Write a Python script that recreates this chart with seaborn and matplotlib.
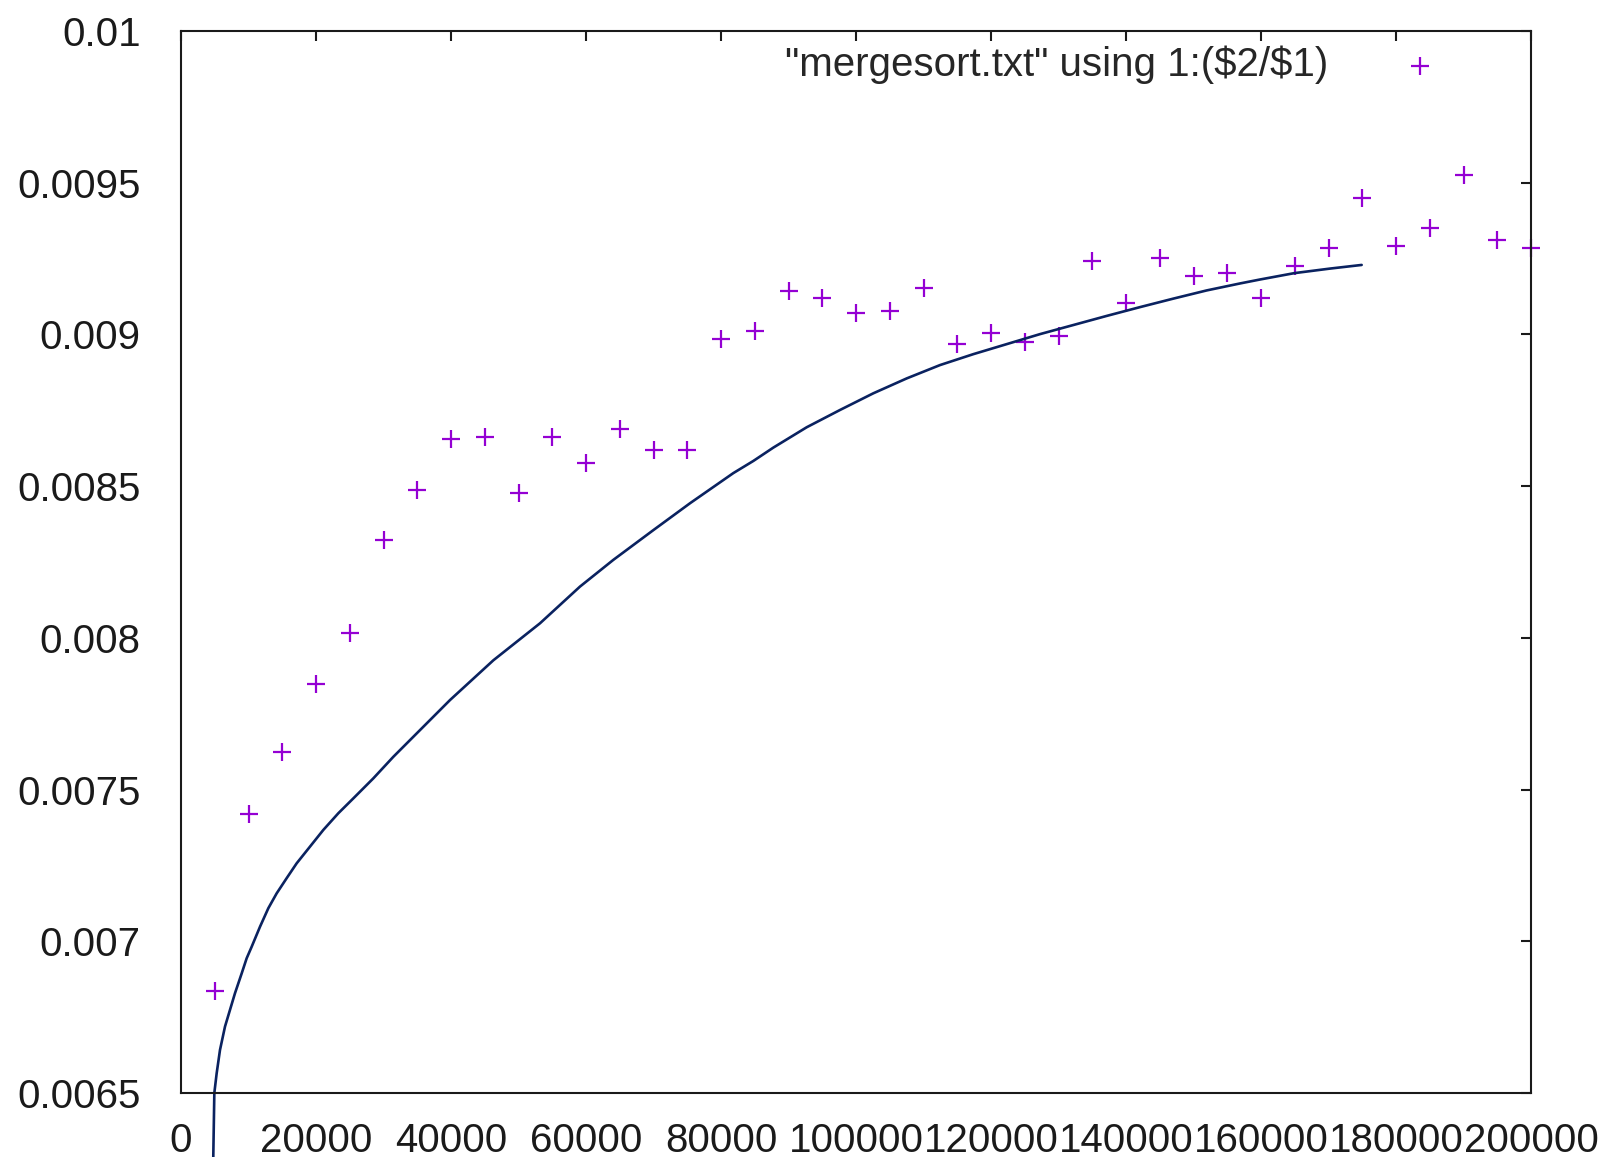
import matplotlib
matplotlib.use('Agg')
import matplotlib.pyplot as plt
import seaborn as sns
import pandas as pd
from matplotlib.ticker import FixedLocator, FixedFormatter

# Размер массива n и время/n (точки из mergesort.txt)
sizes = [5000, 10000, 15000, 20000, 25000, 30000, 35000, 40000, 45000, 50000,
         55000, 60000, 65000, 70000, 75000, 80000, 85000, 90000, 95000, 100000,
         105000, 110000, 115000, 120000, 125000, 130000, 135000, 140000, 145000, 150000,
         155000, 160000, 165000, 170000, 175000, 180000, 185000, 190000, 195000, 200000]
ratio = [0.006837, 0.007418, 0.007625, 0.007848, 0.008015, 0.008322, 0.008487, 0.008654, 0.008661, 0.008478,
         0.008661, 0.008577, 0.008687, 0.008619, 0.008619, 0.008984, 0.009011, 0.009144, 0.009119, 0.009070,
         0.009077, 0.009152, 0.008968, 0.009004, 0.008976, 0.008995, 0.009242, 0.009103, 0.009251, 0.009194,
         0.009201, 0.009119, 0.009227, 0.009284, 0.009451, 0.009292, 0.009350, 0.009525, 0.009311, 0.009284]

# Кривая тренда
fit_x = [4775, 4938, 5284, 5778, 6519, 7259, 8000, 8988, 9728, 10469,
         11704, 12938, 14173, 15654, 17136, 19111, 21086, 23309, 25531, 28494,
         31457, 35407, 39852, 46272, 53185, 59111, 64049, 69975, 75432, 81827,
         84790, 87753, 92691, 97630, 102568, 107506, 112444, 117383, 122321, 127259,
         132198, 137136, 142074, 147012, 151951, 156889, 159852, 164938, 170222, 174914]
fit_y = [0.00628, 0.0065, 0.006565, 0.006642, 0.006719, 0.006774, 0.006829, 0.006894, 0.006944, 0.006982,
         0.007048, 0.007109, 0.007158, 0.007208, 0.007257, 0.007312, 0.007367, 0.007422, 0.007471, 0.007537,
         0.007608, 0.007696, 0.007795, 0.007926, 0.008048, 0.008169, 0.008257, 0.008355, 0.008444, 0.008543,
         0.008583, 0.008627, 0.008694, 0.008751, 0.008806, 0.008855, 0.008899, 0.008935, 0.008968, 0.009001,
         0.009031, 0.009061, 0.009090, 0.009118, 0.009145, 0.009168, 0.009181, 0.009202, 0.009217, 0.009229]

x_ticks = [0, 20000, 40000, 60000, 80000, 100000, 120000, 140000, 160000, 180000, 200000]
x_tick_labels = ['0', '20000', '40000', '60000', '80000', '100000', '120000', '140000', '160000', '180000', '200000']
y_ticks = [0.0065, 0.007, 0.0075, 0.008, 0.0085, 0.009, 0.0095, 0.01]
y_tick_labels = ['0.0065', '0.007', '0.0075', '0.008', '0.0085', '0.009', '0.0095', '0.01']
legend_label = r'"mergesort.txt" using 1:(\$2/\$1)'

sns.set_theme(style='white')
plt.rcParams['font.family'] = ['Liberation Sans', 'DejaVu Sans']

points = pd.DataFrame({'n': sizes, 'ratio': ratio})
trend = pd.DataFrame({'n': fit_x, 'ratio': fit_y})

fig = plt.figure(figsize=(16.14, 11.57), dpi=100)
ax = fig.add_axes([181 / 1614, 1 - 1093 / 1157, 1350 / 1614, 1062 / 1157])

sns.lineplot(data=trend, x='n', y='ratio', color='#0a2260', linewidth=1.9,
             sort=False, estimator=None, ax=ax)
ax.lines[-1].set_clip_on(False)

sns.scatterplot(data=points, x='n', y='ratio', marker='+', color='#9400D3',
                s=180, linewidth=1.6, label=legend_label, ax=ax, clip_on=False)

ax.set_xlim(0, 200000)
ax.set_ylim(0.0065, 0.01)
ax.xaxis.set_major_locator(FixedLocator(x_ticks))
ax.xaxis.set_major_formatter(FixedFormatter(x_tick_labels))
ax.yaxis.set_major_locator(FixedLocator(y_ticks))
ax.yaxis.set_major_formatter(FixedFormatter(y_tick_labels))
ax.set_xlabel('')
ax.set_ylabel('')

for s in ax.spines.values():
    s.set_linewidth(1.5)
    s.set_color('#1a1a1a')

ax.tick_params(axis='both', direction='in', length=7.5, width=1.5, color='#1a1a1a',
               top=True, right=True, labelsize=29, labelcolor='#1a1a1a')
ax.tick_params(axis='x', pad=21)
ax.tick_params(axis='y', pad=29)

ax.legend(loc='center right', bbox_to_anchor=((1460 - 181) / 1350, (1093 - 65) / 1062),
          frameon=False, markerfirst=False, fontsize=29, handlelength=2,
          handletextpad=1.28, borderpad=0, borderaxespad=0)

fig.savefig('out.png', dpi=100)
